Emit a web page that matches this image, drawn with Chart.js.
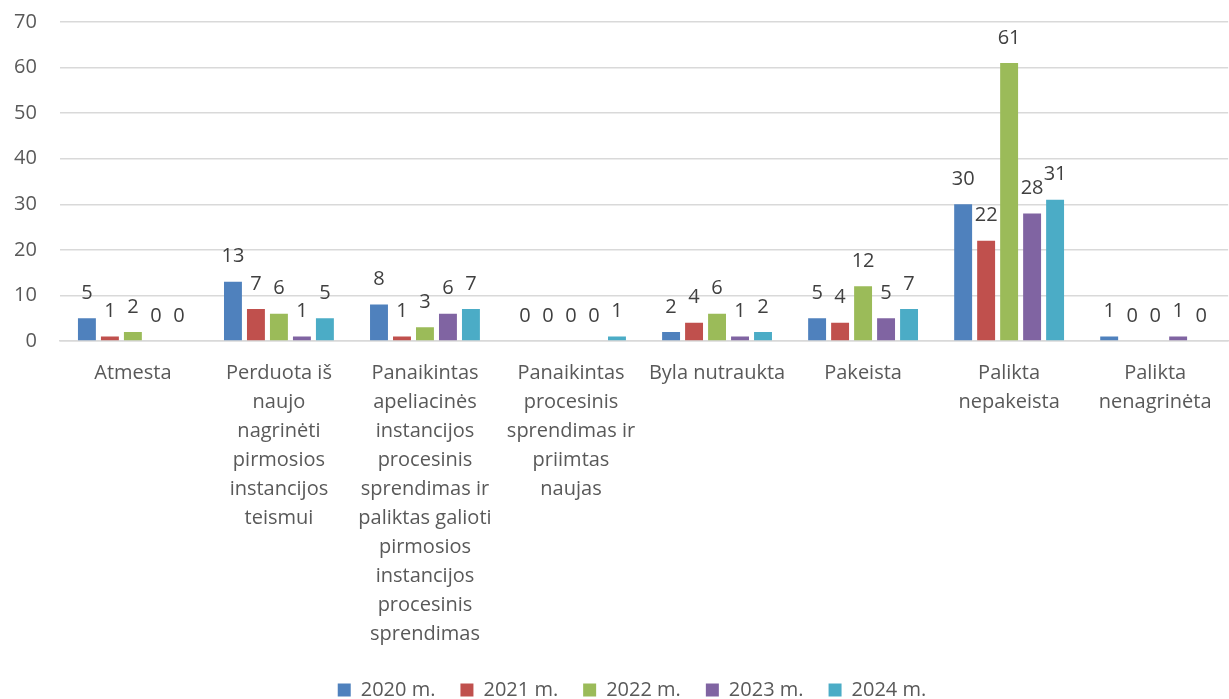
<!DOCTYPE html>
<html>
<head>
<meta charset="utf-8">
<script src="https://cdn.jsdelivr.net/npm/chart.js@4.4.1/dist/chart.umd.min.js"></script>
<style>
    html, body { margin: 0; padding: 0; background: #fff; }
    #wrap { width: 1229px; height: 699px; }
</style>
</head>
<body>
<div id="wrap"><canvas id="appeal-chart"></canvas></div>
<script>
const categories = [
    'Atmesta',
    ['Perduota iš', 'naujo', 'nagrinėti', 'pirmosios', 'instancijos', 'teismui'],
    ['Panaikintas', 'apeliacinės', 'instancijos', 'procesinis', 'sprendimas ir', 'paliktas galioti', 'pirmosios', 'instancijos', 'procesinis', 'sprendimas'],
    ['Panaikintas', 'procesinis', 'sprendimas ir', 'priimtas', 'naujas'],
    'Byla nutraukta',
    'Pakeista',
    ['Palikta', 'nepakeista'],
    ['Palikta', 'nenagrinėta'],
];

const series_labels = ['2020 m.', '2021 m.', '2022 m.', '2023 m.', '2024 m.'];

const values_2020 = [5, 13, 8, 0, 2, 5, 30, 1];
const values_2021 = [1, 7, 1, 0, 4, 4, 22, 0];
const values_2022 = [2, 6, 3, 0, 6, 12, 61, 0];
const values_2023 = [0, 1, 6, 0, 1, 5, 28, 1];
const values_2024 = [0, 5, 7, 1, 2, 7, 31, 0];

const y_ticks = [0, 10, 20, 30, 40, 50, 60, 70];

const colors = ['#4F81BD', '#C0504D', '#9BBB59', '#8064A2', '#4BACC6'];

const font_family = '"Open Sans", Lato, sans-serif';

// value labels above every bar
const barLabels = {
    id: 'barLabels',
    afterDatasetsDraw(chart) {
        const ctx = chart.ctx;
        ctx.save();
        ctx.font = `20px ${font_family}`;
        ctx.fillStyle = '#404040';
        ctx.textAlign = 'center';
        ctx.textBaseline = 'middle';
        chart.data.datasets.forEach((ds, i) => {
            const meta = chart.getDatasetMeta(i);
            meta.data.forEach((bar, j) => {
                ctx.fillText(String(ds.data[j]), bar.x, bar.y - 25);
            });
        });
        ctx.restore();
    }
};

// legend sits a bit right of the canvas centre in the original
const legendShift = {
    id: 'legendShift',
    afterLayout(chart) {
        if (chart.legend) {
            chart.legend.left += 20;
            chart.legend.right += 20;
        }
    }
};

(function () {
    const canvas = document.getElementById('appeal-chart');
    const all_values = [values_2020, values_2021, values_2022, values_2023, values_2024];

    const data = {
        labels: categories,
        datasets: all_values.map((v, i) => ({
            label: series_labels[i],
            data: v,
            backgroundColor: colors[i],
            borderWidth: 0,
            categoryPercentage: 0.787,
            barPercentage: 0.78,
        }))
    };

    const config = {
        type: 'bar',
        data: data,
        plugins: [barLabels, legendShift],
        options: {
            responsive: true,
            maintainAspectRatio: false,
            animation: false,
            layout: {
                padding: { left: -9, right: -4, top: 22, bottom: -11 }
            },
            plugins: {
                tooltip: { enabled: false },
                legend: {
                    position: 'bottom',
                    labels: {
                        boxWidth: 13,
                        boxHeight: 13,
                        padding: 25,
                        color: '#595959',
                        font: { family: font_family, size: 20 }
                    }
                }
            },
            scales: {
                x: {
                    grid: { display: false, drawTicks: false },
                    border: { color: '#d9d9d9', width: 1.5 },
                    ticks: {
                        color: '#595959',
                        padding: 17.5,
                        maxRotation: 0,
                        autoSkip: false,
                        font: { family: font_family, size: 20, lineHeight: 29 / 20 }
                    },
                    afterFit: (scale) => { scale.height = 314; }
                },
                y: {
                    min: 0,
                    max: 70,
                    afterBuildTicks: (scale) => { scale.ticks = y_ticks.map(v => ({ value: v })); },
                    afterFit: (scale) => { scale.paddingTop = 0; },
                    grid: { color: '#d9d9d9', lineWidth: 1.5, drawTicks: false },
                    border: { display: false },
                    ticks: {
                        color: '#595959',
                        padding: 23,
                        font: { family: font_family, size: 20 }
                    }
                }
            }
        }
    };

    new Chart(canvas, config);
})();
</script>
</body>
</html>
